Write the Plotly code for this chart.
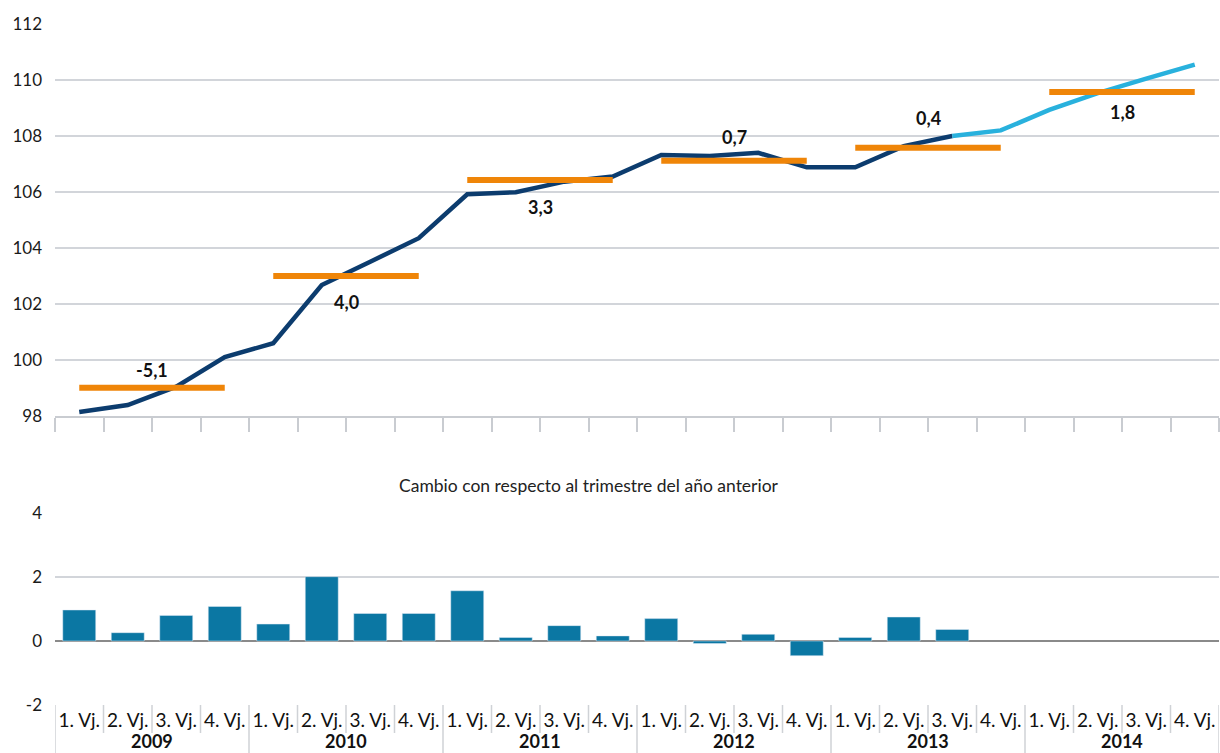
import plotly.graph_objects as go

# ---------------- data ----------------
quarters = ["1. Vj.", "2. Vj.", "3. Vj.", "4. Vj."] * 6
years = ["2009", "2010", "2011", "2012", "2013", "2014"]
index_actual = [98.14, 98.39, 99.05, 100.1, 100.6, 102.68, 103.51, 104.35,
                105.92, 105.99, 106.37, 106.55, 107.32, 107.29, 107.4, 106.88,
                106.88, 107.64, 108.0]
index_forecast = [108.0, 108.2, 108.93, 109.53, 110.05, 110.55]
annual_avg = [99.01, 103.0, 106.43, 107.12, 107.58, 109.57]
annual_change = ["-5,1", "4,0", "3,3", "0,7", "0,4", "1,8"]
yoy_change = [0.97, 0.26, 0.80, 1.08, 0.53, 2.01, 0.86, 0.86, 1.57, 0.11,
              0.48, 0.16, 0.70, -0.08, 0.21, -0.46, 0.11, 0.75, 0.36]
top_ticks = [98, 100, 102, 104, 106, 108, 110, 112]
bottom_ticks = [-2, 0, 2, 4]
bottom_title = "Cambio con respecto al trimestre del año anterior"

# ---------------- style ----------------
label_shift = [-18, 26, 27, -24, -30, 20]   # px offset of annual labels
DARK = "#0c3c6e"
LIGHT = "#29b1dd"
ORANGE = "#ef8508"
BAR = "#0b77a3"
GRID = "#d2d5da"
FONT = "Lato, Liberation Sans, sans-serif"

W, H = 1220, 753
ML, MR = 55, 1
n = len(quarters)
nq = 4
xs = list(range(n))

def py(px):
    return (H - px) / H

fig = go.Figure()

# top chart lines
n_act = len(index_actual)
fig.add_trace(go.Scatter(x=xs[:n_act], y=index_actual, mode="lines",
                         line=dict(color=DARK, width=4.5), xaxis="x", yaxis="y",
                         hoverinfo="skip"))
fig.add_trace(go.Scatter(x=xs[n_act - 1:], y=index_forecast, mode="lines",
                         line=dict(color=LIGHT, width=4.5), xaxis="x", yaxis="y",
                         hoverinfo="skip"))
for k, avg in enumerate(annual_avg):
    fig.add_trace(go.Scatter(x=[k * nq, k * nq + nq - 1], y=[avg, avg], mode="lines",
                             line=dict(color=ORANGE, width=6), xaxis="x", yaxis="y",
                             hoverinfo="skip"))
    fig.add_annotation(x=k * nq + (nq - 1) / 2, y=avg, xref="x", yref="y",
                       text="<b>" + annual_change[k] + "</b>", showarrow=False,
                       yshift=-label_shift[k],
                       font=dict(family=FONT, size=18, color="#111"))

# bottom chart bars
fig.add_trace(go.Bar(x=xs[:len(yoy_change)], y=yoy_change, marker_color=BAR,
                     width=0.68, xaxis="x2", yaxis="y2", hoverinfo="skip"))

# 100 reference line
fig.add_shape(type="line", xref="paper", yref="y", x0=0, x1=1, y0=100, y1=100,
              line=dict(color="#6e6e6e", width=1.5), layer="below")

boundaries = [i - 0.5 for i in range(n + 1)]

# label box separators for bottom x axis
for b in boundaries:
    is_year = (round(b + 0.5) % nq == 0)
    fig.add_shape(type="line", xref="x2", yref="paper", x0=b, x1=b,
                  y0=py(753) if is_year else py(733), y1=py(705),
                  line=dict(color="#cfd2d6", width=1.5))

# year labels
for k, yr in enumerate(years):
    fig.add_annotation(x=k * nq + (nq - 1) / 2, y=py(728), xref="x2", yref="paper",
                       yanchor="top", text="<b>" + yr + "</b>", showarrow=False,
                       font=dict(family=FONT, size=18, color="#111"))

fig.add_annotation(x=(589 - ML) / (W - ML - MR), y=py(485), xref="paper", yref="paper",
                   text=bottom_title, showarrow=False,
                   font=dict(family=FONT, size=17.5, color="#222"))

tickfont = dict(family=FONT, size=17, color="#1a1a1a")

fig.update_layout(
    width=W, height=H, autosize=False,
    margin=dict(l=ML, r=MR, t=0, b=0),
    paper_bgcolor="white", plot_bgcolor="white",
    showlegend=False,
    xaxis=dict(domain=[0, 1], range=[-0.5, n - 0.5], anchor="y", automargin=False,
               showgrid=False, zeroline=False, showline=True, linecolor="#c9ccd1",
               linewidth=1.5, tickmode="array", tickvals=boundaries,
               ticktext=[""] * len(boundaries), ticks="outside", ticklen=14,
               tickcolor="#c9ccd1", tickwidth=1.5),
    yaxis=dict(domain=[py(416), py(24)], range=[98, 112], anchor="x", automargin=False,
               tickmode="array", tickvals=top_ticks, ticktext=[str(t) for t in top_ticks],
               showgrid=True, gridcolor=GRID, gridwidth=1.5, zeroline=False,
               showline=False, ticks="", tickfont=tickfont, ticklabelstandoff=12),
    xaxis2=dict(domain=[0, 1], range=[-0.5, n - 0.5], anchor="y2", automargin=False,
                showgrid=False, zeroline=False, showline=False,
                tickmode="array", tickvals=xs, ticktext=quarters, ticks="",
                tickfont=dict(family=FONT, size=19, color="#111"),
                ticklabelstandoff=2),
    yaxis2=dict(domain=[py(705), py(513)], range=[-2, 4], anchor="x2", automargin=False,
                tickmode="array", tickvals=bottom_ticks,
                ticktext=[str(t) for t in bottom_ticks],
                showgrid=True, gridcolor=GRID, gridwidth=1.5, zeroline=True,
                zerolinecolor="#8a8a8a", zerolinewidth=2, showline=False,
                ticks="", tickfont=tickfont, ticklabelstandoff=12),
)

fig.write_html("out.html", config={"displayModeBar": False},
               post_script="document.body.style.margin='0';document.body.style.overflow='hidden';")
